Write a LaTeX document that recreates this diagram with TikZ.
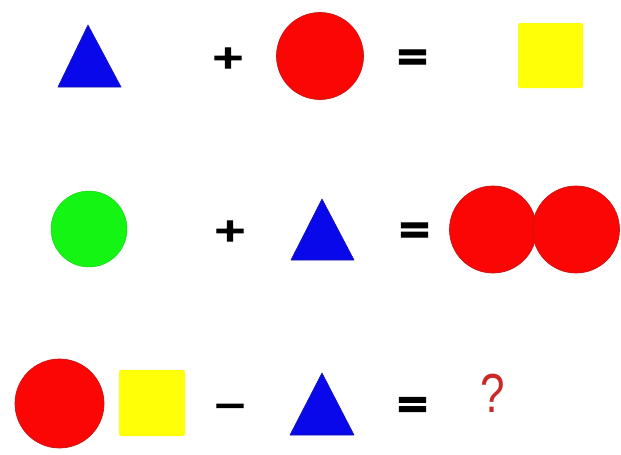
\documentclass[tikz,border=0pt]{standalone}
\usepackage{fontspec}
\newfontfamily\opfont[BoldFeatures={FakeBold=3}]{DejaVu Sans}
\newfontfamily\qfont{Liberation Sans}
\definecolor{shBlue}{RGB}{8,8,235}
\definecolor{shBlueEdge}{RGB}{20,20,170}
\definecolor{shRed}{RGB}{252,5,5}
\definecolor{shRedEdge}{RGB}{200,20,20}
\definecolor{shGreen}{RGB}{20,245,20}
\definecolor{shYellow}{RGB}{255,255,8}
\definecolor{qRed}{RGB}{205,40,40}
\begin{document}
\begin{tikzpicture}[x=1pt,y=-1pt,
  redball/.style={circle,fill=shRed,draw=shRedEdge,line width=0.7pt,inner sep=0pt,minimum size=87pt},
  greenball/.style={circle,fill=shGreen,draw=shGreen!85!black,line width=0.4pt,inner sep=0pt,minimum size=76pt},
  yellowsq/.style={rectangle,rounded corners=2pt,fill=shYellow,inner sep=0pt,minimum size=65pt},
  tri/.style={fill=shBlue,draw=shBlueEdge,line width=0.6pt,line join=round},
  op/.style={inner sep=0pt,font=\opfont\bfseries\fontsize{32}{32}\selectfont,xscale=1.3,transform shape},
  eqop/.style={inner sep=0pt,font=\opfont\bfseries\fontsize{32}{32}\selectfont,xscale=1.3,yscale=1.3,transform shape},
  qmark/.style={inner sep=0pt,text=qRed,font=\qfont\fontsize{55}{55}\selectfont,xscale=0.8,transform shape}]
\useasboundingbox (0,0) rectangle (621,455);
\fill[white] (0,0) rectangle (621,455);
% Row 1
\coordinate (t1a) at (88,25);
\coordinate (t1b) at (58,87);
\coordinate (t1c) at (121,87);
\path[tri] (t1a) -- (t1b) -- (t1c) -- cycle;
\node[op] (plus1) at (228,58) {+};
\node[redball] (r1) at (320,56) {};
\node[eqop] (eq1) at (412.5,60) {=};
\node[yellowsq] (y1) at (550.5,55.5) {};
% Row 2
\node[greenball] (g2) at (89,229) {};
\node[op] (plus2) at (230,231) {+};
\coordinate (t2a) at (322,199);
\coordinate (t2b) at (291,260);
\coordinate (t2c) at (354,260);
\path[tri] (t2a) -- (t2b) -- (t2c) -- cycle;
\node[eqop] (eq2) at (414.5,233) {=};
\node[redball] (r2a) at (493,229.5) {};
\node[redball] (r2b) at (576,229.5) {};
% Row 3
\node[redball,minimum size=89pt] (r3) at (59.5,403.5) {};
\node[yellowsq,minimum width=66pt,minimum height=66pt] (y3) at (152,403) {};
\node[op] (minus3) at (230,410) {−};
\coordinate (t3a) at (322,373);
\coordinate (t3b) at (290,435);
\coordinate (t3c) at (354,435);
\path[tri] (t3a) -- (t3b) -- (t3c) -- cycle;
\node[eqop] (eq3) at (412.5,407.5) {=};
\node[qmark,anchor=base] (q3) at (493,412) {?};
\end{tikzpicture}
\end{document}
